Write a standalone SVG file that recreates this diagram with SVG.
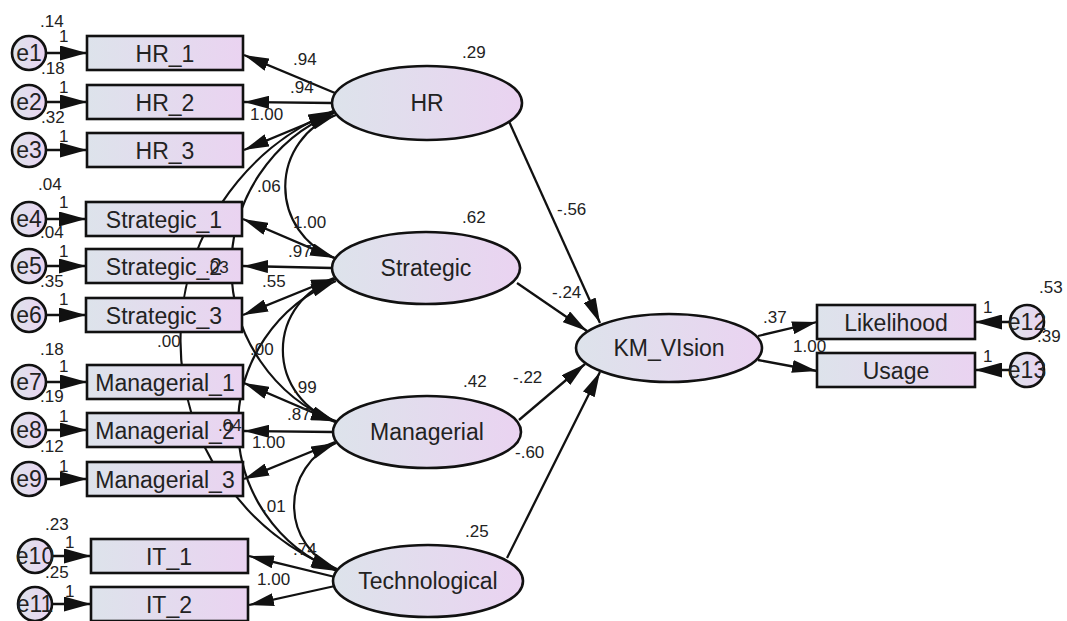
<svg xmlns="http://www.w3.org/2000/svg" width="1067" height="621" viewBox="0 0 1067 621">
  <defs>
    <linearGradient id="fillGrad" x1="0" y1="0" x2="1" y2="0">
      <stop offset="0" stop-color="#dde3eb"/>
      <stop offset="1" stop-color="#ead3f1"/>
    </linearGradient>
    <marker id="arr" markerUnits="userSpaceOnUse" markerWidth="25" markerHeight="13" viewBox="0 0 25 13" refX="25" refY="6.5" orient="auto-start-reverse">
      <path d="M0,0 L25,6.5 L0,13 z" fill="#111"/>
    </marker>
    <marker id="arrE" markerUnits="userSpaceOnUse" markerWidth="27" markerHeight="15" viewBox="0 0 27 15" refX="27" refY="7.5" orient="auto">
      <path d="M0,0 L27,7.5 L0,15 z" fill="#111"/>
    </marker>
  </defs>
  <style>
    .box { fill: url(#fillGrad); stroke: #111; stroke-width: 2.6; }
    .lbl { font-family: "Liberation Sans", Arial, sans-serif; font-size: 23px; fill: #222; text-anchor: middle; }
    .num { font-family: "Liberation Sans", Arial, sans-serif; font-size: 17px; fill: #222; }
    .ln { fill: none; stroke: #111; stroke-width: 2.3; marker-end: url(#arr); }
    .en { fill: none; stroke: #111; stroke-width: 2.3; marker-end: url(#arrE); }
    .cov { fill: none; stroke: #111; stroke-width: 2.2; marker-start: url(#arr); marker-end: url(#arr); }
  </style>
  <rect width="1067" height="621" fill="#ffffff"/>

  <!-- connectors -->
  <g id="connectors">
    <!-- error terms to indicators -->
    <path class="en" d="M46,53 L87,53"/>
    <path class="en" d="M46,102 L87,102"/>
    <path class="en" d="M46,150 L87,150"/>
    <path class="en" d="M46,219 L86,219"/>
    <path class="en" d="M46,266 L86,266"/>
    <path class="en" d="M46,315 L86,315"/>
    <path class="en" d="M46,382 L87,382"/>
    <path class="en" d="M46,430 L87,430"/>
    <path class="en" d="M46,479 L87,479"/>
    <path class="en" d="M52,556 L91,556"/>
    <path class="en" d="M52,604 L91,604"/>
    <path class="en" d="M1009,322 L975,322"/>
    <path class="en" d="M1009,370 L975,370"/>
    <!-- factor loadings -->
    <path class="ln" d="M335,93 L244,55"/>
    <path class="ln" d="M332,103 L244,102"/>
    <path class="ln" d="M335,112 L244,150"/>
    <path class="ln" d="M334,258 L243,219"/>
    <path class="ln" d="M332,268 L243,266"/>
    <path class="ln" d="M334,278 L243,315"/>
    <path class="ln" d="M335,422 L244,383"/>
    <path class="ln" d="M333,432 L244,431"/>
    <path class="ln" d="M335,442 L244,479"/>
    <path class="ln" d="M335,577 L249,556"/>
    <path class="ln" d="M335,586 L249,605"/>
    <path class="ln" d="M758,336 L817,322"/>
    <path class="ln" d="M758,360 L817,371"/>
    <!-- structural paths -->
    <path class="ln" d="M507,117 L600,323"/>
    <path class="ln" d="M517,283 L587,331"/>
    <path class="ln" d="M519,420 L585,364"/>
    <path class="ln" d="M507,558 L600,372"/>
    <!-- covariances between factors -->
    <path class="cov" d="M336,115 A76,76 0 0 0 335,258"/>
    <path class="cov" d="M334,113 A167,167 0 0 0 336,422"/>
    <path class="cov" d="M333,111 A248,248 0 0 0 336,570"/>
    <path class="cov" d="M336,279 A74,74 0 0 0 336,421"/>
    <path class="cov" d="M336,281 A156,156 0 0 0 337,571"/>
    <path class="cov" d="M336,443 A68,68 0 0 0 337,569"/>
  </g>

  <!-- error terms -->
  <g id="e1"><circle class="box" cx="29" cy="53" r="17"/><text class="lbl" x="29" y="61">e1</text></g>
  <g id="e2"><circle class="box" cx="29" cy="102" r="17"/><text class="lbl" x="29" y="110">e2</text></g>
  <g id="e3"><circle class="box" cx="29" cy="150" r="17"/><text class="lbl" x="29" y="158">e3</text></g>
  <g id="e4"><circle class="box" cx="29" cy="219" r="17"/><text class="lbl" x="29" y="227">e4</text></g>
  <g id="e5"><circle class="box" cx="29" cy="266" r="17"/><text class="lbl" x="29" y="274">e5</text></g>
  <g id="e6"><circle class="box" cx="29" cy="315" r="17"/><text class="lbl" x="29" y="323">e6</text></g>
  <g id="e7"><circle class="box" cx="29" cy="382" r="17"/><text class="lbl" x="29" y="390">e7</text></g>
  <g id="e8"><circle class="box" cx="29" cy="430" r="17"/><text class="lbl" x="29" y="438">e8</text></g>
  <g id="e9"><circle class="box" cx="29" cy="479" r="17"/><text class="lbl" x="29" y="487">e9</text></g>
  <g id="e10"><circle class="box" cx="35" cy="556" r="17"/><text class="lbl" x="35" y="564">e10</text></g>
  <g id="e11"><circle class="box" cx="35" cy="604" r="17"/><text class="lbl" x="35" y="612">e11</text></g>
  <g id="e12"><circle class="box" cx="1027" cy="322" r="17"/><text class="lbl" x="1027" y="330">e12</text></g>
  <g id="e13"><circle class="box" cx="1027" cy="370" r="17"/><text class="lbl" x="1027" y="378">e13</text></g>

  <!-- observed indicators -->
  <g id="HR_1"><rect class="box" x="87" y="36" width="156" height="34"/><text class="lbl" x="165" y="62">HR_1</text></g>
  <g id="HR_2"><rect class="box" x="87" y="85" width="156" height="34"/><text class="lbl" x="165" y="111">HR_2</text></g>
  <g id="HR_3"><rect class="box" x="87" y="133" width="156" height="34"/><text class="lbl" x="165" y="159">HR_3</text></g>
  <g id="Strategic_1"><rect class="box" x="86" y="202" width="156" height="34"/><text class="lbl" x="164" y="228">Strategic_1</text></g>
  <g id="Strategic_2"><rect class="box" x="86" y="249" width="156" height="34"/><text class="lbl" x="164" y="275">Strategic_2</text></g>
  <g id="Strategic_3"><rect class="box" x="86" y="298" width="156" height="34"/><text class="lbl" x="164" y="324">Strategic_3</text></g>
  <g id="Managerial_1"><rect class="box" x="87" y="365" width="156" height="34"/><text class="lbl" x="165" y="391">Managerial_1</text></g>
  <g id="Managerial_2"><rect class="box" x="87" y="413" width="156" height="34"/><text class="lbl" x="165" y="439">Managerial_2</text></g>
  <g id="Managerial_3"><rect class="box" x="87" y="462" width="156" height="34"/><text class="lbl" x="165" y="488">Managerial_3</text></g>
  <g id="IT_1"><rect class="box" x="91" y="539" width="157" height="34"/><text class="lbl" x="169" y="565">IT_1</text></g>
  <g id="IT_2"><rect class="box" x="91" y="587" width="157" height="34"/><text class="lbl" x="169" y="613">IT_2</text></g>
  <g id="Likelihood"><rect class="box" x="817" y="305" width="158" height="34"/><text class="lbl" x="896" y="331">Likelihood</text></g>
  <g id="Usage"><rect class="box" x="817" y="353" width="158" height="34"/><text class="lbl" x="896" y="379">Usage</text></g>

  <!-- latent factors -->
  <g id="HR"><ellipse class="box" cx="427" cy="103" rx="95" ry="37"/><text class="lbl" x="427" y="111">HR</text></g>
  <g id="Strategic"><ellipse class="box" cx="426" cy="268" rx="94" ry="36"/><text class="lbl" x="426" y="276">Strategic</text></g>
  <g id="Managerial"><ellipse class="box" cx="427" cy="432" rx="94" ry="36"/><text class="lbl" x="427" y="440">Managerial</text></g>
  <g id="Technological"><ellipse class="box" cx="428" cy="581" rx="95" ry="36"/><text class="lbl" x="428" y="589">Technological</text></g>
  <g id="KM_VIsion"><ellipse class="box" cx="669" cy="348" rx="93" ry="34"/><text class="lbl" x="669" y="356">KM_VIsion</text></g>

  <!-- estimates -->
  <g id="estimates" class="num">
    <text x="40" y="27">.14</text><text x="59" y="42">1</text>
    <text x="41" y="74">.18</text><text x="59" y="93">1</text>
    <text x="41" y="123">.32</text><text x="59" y="142">1</text>
    <text x="38" y="190">.04</text><text x="59" y="208">1</text>
    <text x="40" y="238">.04</text><text x="59" y="257">1</text>
    <text x="40" y="287">.35</text><text x="59" y="305">1</text>
    <text x="40" y="355">.18</text><text x="59" y="372">1</text>
    <text x="40" y="402">.19</text><text x="59" y="422">1</text>
    <text x="40" y="452">.12</text><text x="59" y="472">1</text>
    <text x="45" y="530">.23</text><text x="65" y="548">1</text>
    <text x="45" y="578">.25</text><text x="65" y="597">1</text>

    <text x="293" y="65">.94</text>
    <text x="290" y="93">.94</text>
    <text x="250" y="120">1.00</text>
    <text x="257" y="192">.06</text>
    <text x="293" y="228">1.00</text>
    <text x="288" y="257">.97</text>
    <text x="205" y="273">.03</text>
    <text x="262" y="287">.55</text>
    <text x="157" y="347">.00</text>
    <text x="250" y="355">.00</text>
    <text x="293" y="393">.99</text>
    <text x="287" y="420">.87</text>
    <text x="218" y="431">.04</text>
    <text x="252" y="448">1.00</text>
    <text x="262" y="512">.01</text>
    <text x="293" y="555">.74</text>
    <text x="257" y="585">1.00</text>

    <text x="462" y="58">.29</text>
    <text x="462" y="223">.62</text>
    <text x="463" y="387">.42</text>
    <text x="465" y="537">.25</text>
    <text x="557" y="215">-.56</text>
    <text x="552" y="298">-.24</text>
    <text x="513" y="383">-.22</text>
    <text x="515" y="458">-.60</text>

    <text x="763" y="323">.37</text>
    <text x="793" y="352">1.00</text>
    <text x="983" y="313">1</text>
    <text x="983" y="362">1</text>
    <text x="1039" y="293">.53</text>
    <text x="1037" y="342">.39</text>
  </g>
</svg>
